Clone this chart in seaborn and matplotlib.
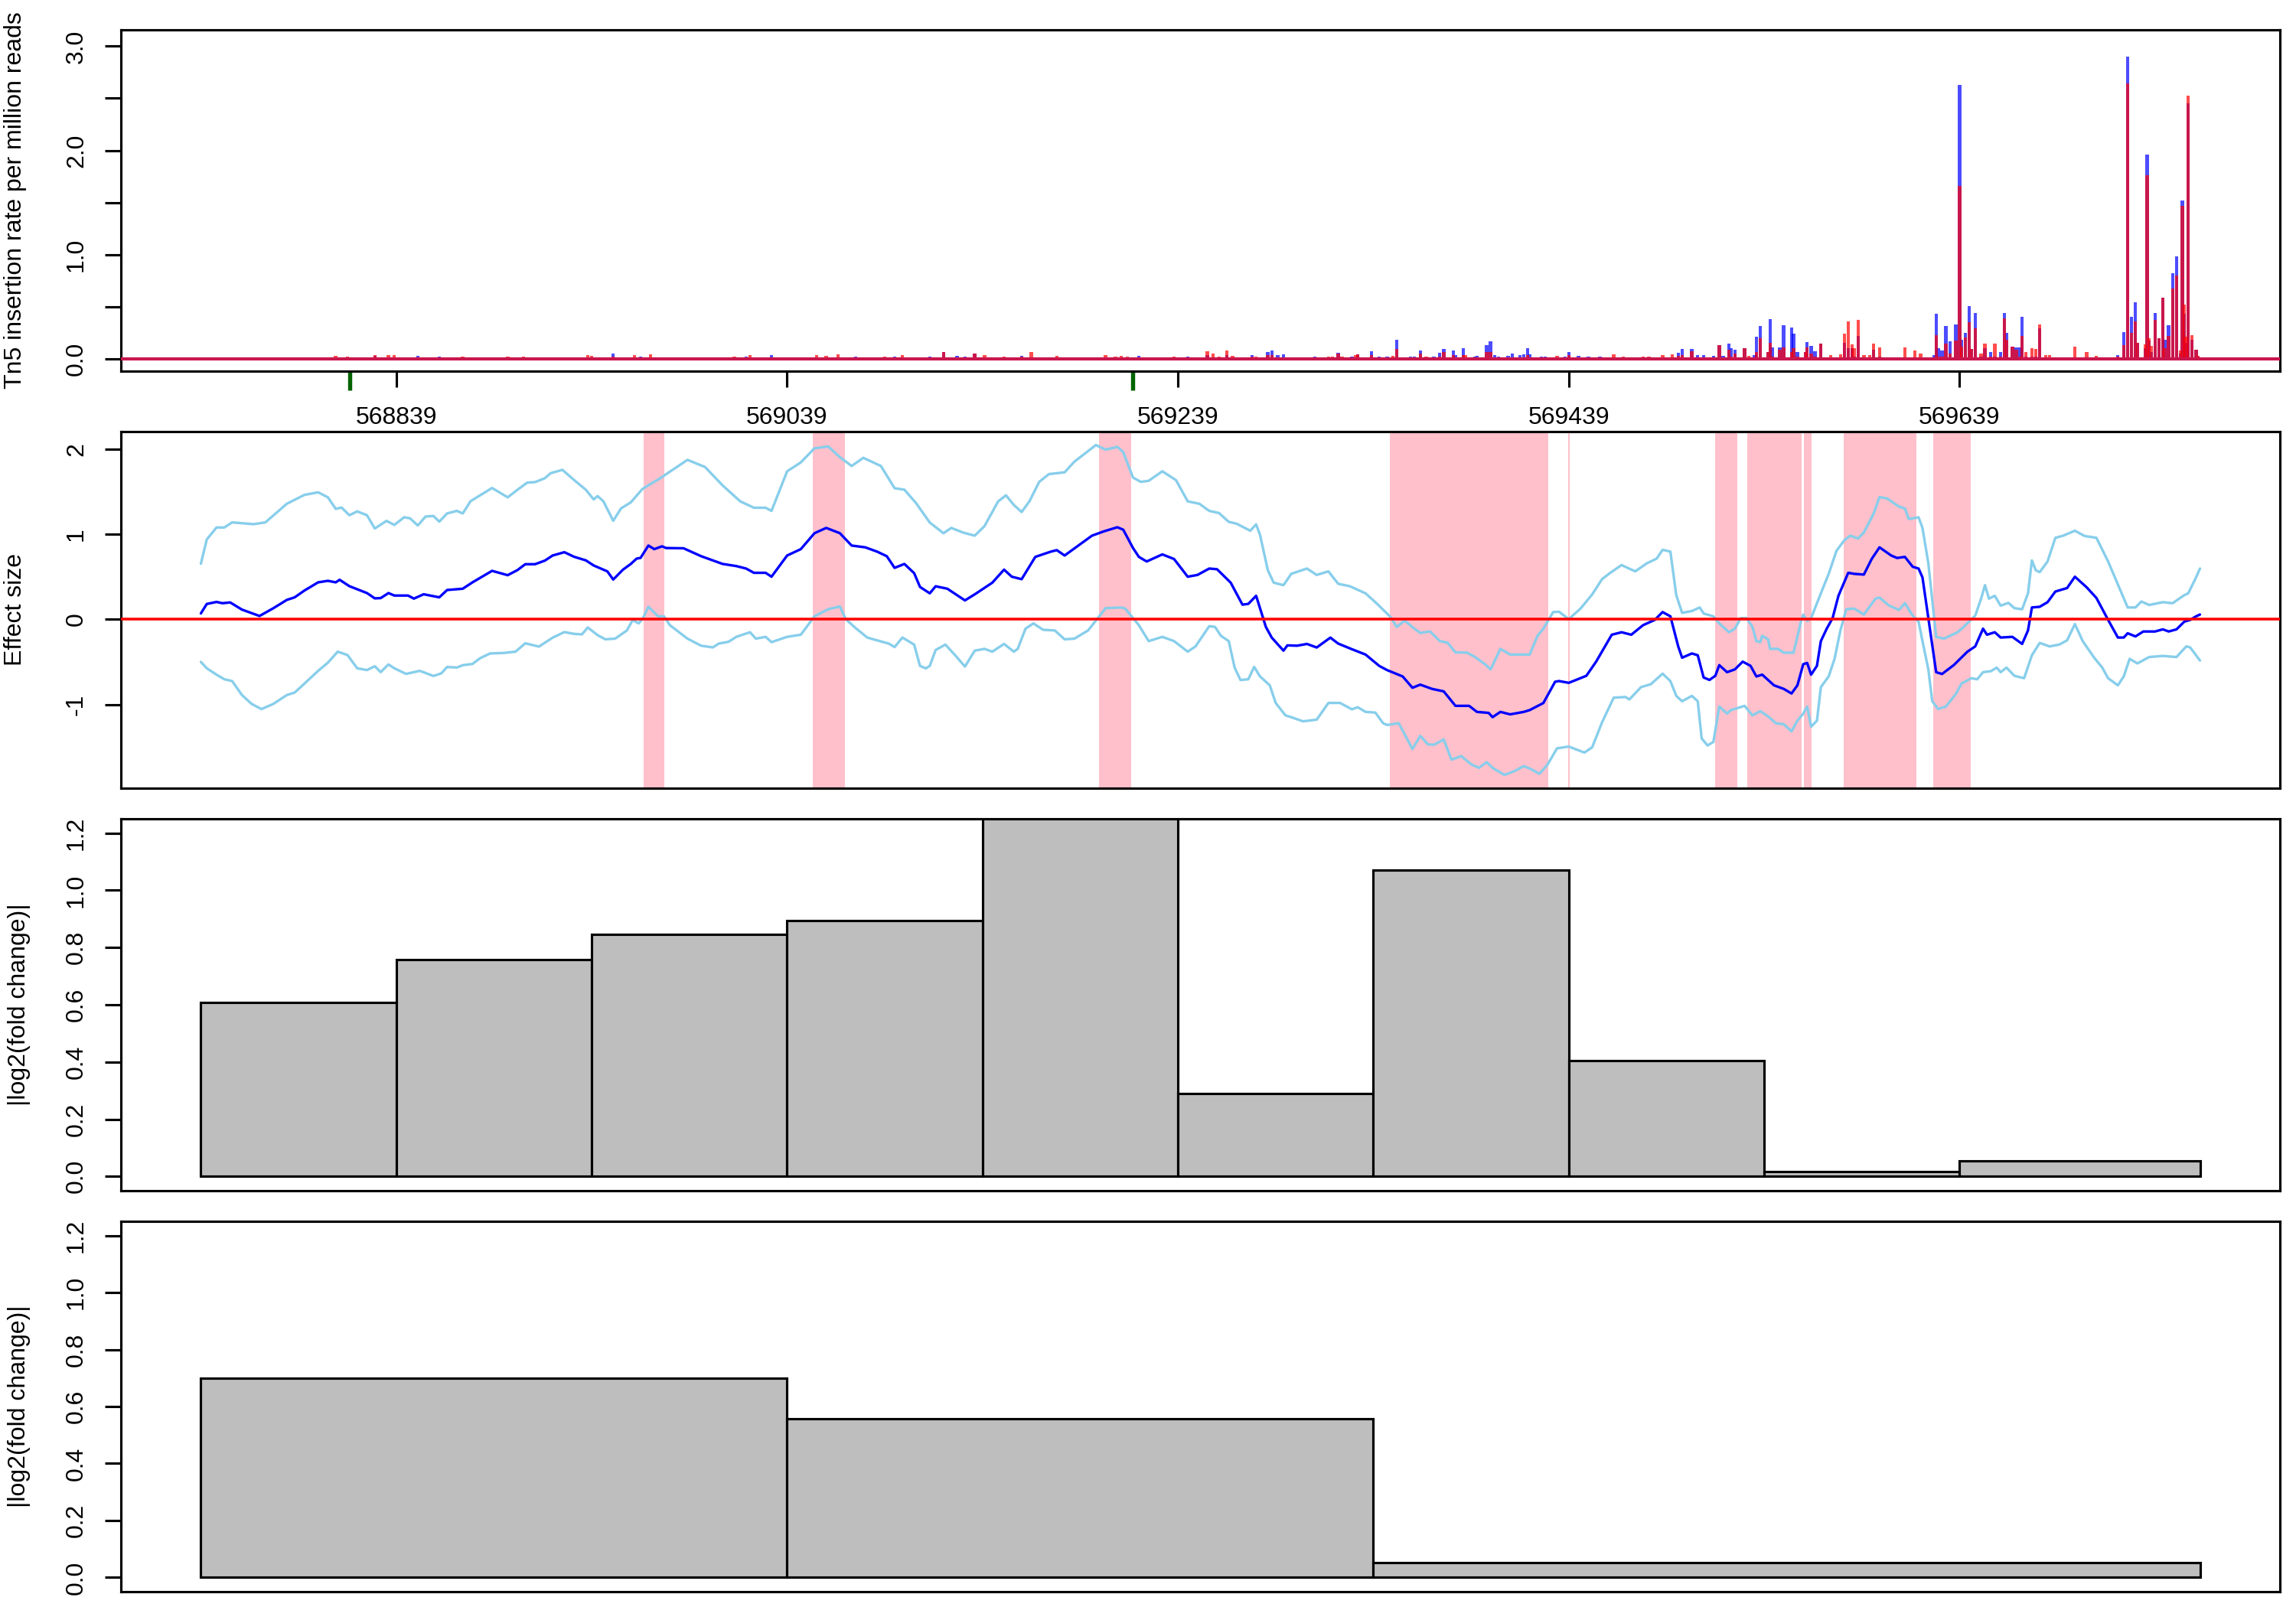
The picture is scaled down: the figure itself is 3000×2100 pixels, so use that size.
import numpy as np
import pandas as pd
import matplotlib
matplotlib.use("Agg")
import matplotlib.pyplot as plt
from matplotlib.ticker import FixedLocator, FixedFormatter
import seaborn as sns

# ---------------- data ----------------
REGION = (568739, 569762)
X_TICKS = [568839, 569039, 569239, 569439, 569639]
MOTIF_MARKS = [568815, 569216]

# Tn5 insertion rate per million reads: (position, sample A (blue), sample B (red))
SPIKES = [
    (568808, 0, 0.025), (568814, 0, 0.022), (568828, 0.025, 0.037), (568835, 0, 0.03),
    (568838, 0, 0.03), (568850, 0.027, 0), (568861, 0.022, 0), (568873, 0, 0.022),
    (568896, 0, 0.022), (568904, 0, 0.02), (568937, 0, 0.032), (568939, 0, 0.027),
    (568950, 0.051, 0.022), (568961, 0, 0.032), (568964, 0.017, 0), (568969, 0, 0.039),
    (569012, 0, 0.022), (569018, 0.022, 0), (569020, 0, 0.03), (569031, 0.032, 0.01),
    (569054, 0, 0.03), (569059, 0, 0.025), (569065, 0, 0.039), (569074, 0.02, 0),
    (569089, 0, 0.02), (569094, 0.022, 0), (569098, 0, 0.037), (569112, 0.017, 0),
    (569119, 0.061, 0.061), (569126, 0.025, 0), (569130, 0.022, 0), (569135, 0.049, 0.049),
    (569140, 0.01, 0.037), (569150, 0, 0.022), (569159, 0.025, 0.017), (569164, 0, 0.061),
    (569177, 0, 0.025), (569202, 0, 0.03), (569207, 0, 0.022), (569210, 0, 0.025),
    (569213, 0, 0.022), (569219, 0.027, 0), (569237, 0, 0.017), (569244, 0.017, 0),
    (569254, 0.032, 0.071), (569257, 0, 0.049), (569260, 0, 0.022), (569264, 0.03, 0.074),
    (569267, 0, 0.025), (569277, 0.032, 0.022), (569279, 0, 0.022), (569285, 0.061, 0.032),
    (569287, 0.074, 0.034), (569290, 0.032, 0.01), (569293, 0.042, 0.01), (569300, 0, 0.012),
    (569309, 0.022, 0), (569316, 0, 0.02), (569318, 0, 0.017), (569321, 0.054, 0.049),
    (569323, 0, 0.017), (569328, 0.02, 0), (569330, 0, 0.032), (569331, 0.042, 0.044),
    (569338, 0.069, 0.037), (569342, 0.022, 0), (569346, 0.02, 0), (569349, 0, 0.025),
    (569351, 0.177, 0.091), (569358, 0.017, 0), (569360, 0.017, 0), (569363, 0.081, 0.049),
    (569366, 0, 0.017), (569370, 0.017, 0), (569373, 0.056, 0.017), (569375, 0.093, 0.061),
    (569380, 0.074, 0.032), (569381, 0.037, 0), (569385, 0.103, 0.032), (569386, 0, 0.032),
    (569391, 0.022, 0), (569392, 0.029, 0), (569397, 0.13, 0.066), (569399, 0.164, 0.061),
    (569401, 0.032, 0), (569403, 0.017, 0), (569408, 0.025, 0), (569410, 0.047, 0),
    (569414, 0.032, 0), (569416, 0.042, 0), (569418, 0.096, 0.037), (569419, 0.042, 0),
    (569425, 0.022, 0), (569427, 0.017, 0), (569433, 0, 0.025), (569437, 0.017, 0),
    (569439, 0.061, 0.032), (569444, 0.025, 0), (569449, 0.02, 0), (569455, 0.017, 0),
    (569462, 0, 0.042), (569467, 0, 0.022), (569477, 0, 0.017), (569480, 0, 0.017),
    (569487, 0, 0.037), (569492, 0, 0.044), (569495, 0.054, 0.029), (569497, 0.091, 0.037),
    (569502, 0.093, 0.069), (569505, 0.032, 0.01), (569508, 0.032, 0.01), (569513, 0.025, 0),
    (569516, 0.127, 0.127), (569518, 0.025, 0), (569521, 0.147, 0.086), (569522, 0.098, 0.02),
    (569524, 0.086, 0.049), (569529, 0.103, 0.103), (569531, 0, 0.025), (569534, 0.037, 0),
    (569535, 0.213, 0.061), (569537, 0.316, 0.196), (569541, 0.066, 0.066), (569542, 0.378, 0.154),
    (569543, 0.11, 0.02), (569547, 0.105, 0.086), (569549, 0.319, 0.105), (569553, 0.30, 0.061),
    (569554, 0.24, 0.103), (569556, 0.066, 0.02), (569560, 0.066, 0.061), (569561, 0.16, 0.105),
    (569563, 0.12, 0.049), (569565, 0.071, 0.02), (569568, 0.14, 0.14), (569573, 0, 0.037),
    (569578, 0, 0.042), (569580, 0.152, 0.24), (569582, 0.103, 0.355), (569584, 0.098, 0.135),
    (569585, 0.02, 0.098), (569587, 0.218, 0.368), (569590, 0, 0.037), (569593, 0, 0.037),
    (569595, 0.086, 0.14), (569598, 0.02, 0.11), (569611, 0, 0.11), (569616, 0, 0.081),
    (569619, 0, 0.049), (569626, 0.032, 0), (569627, 0.429, 0.226), (569628, 0.098, 0.02),
    (569630, 0.074, 0.02), (569632, 0.314, 0.14), (569634, 0.167, 0.049), (569637, 0.326, 0.17),
    (569639, 2.627, 1.66), (569640, 0.177, 0.115), (569642, 0.245, 0.2), (569644, 0.507, 0.346),
    (569645, 0.091, 0.091), (569647, 0.441, 0.294), (569650, 0.02, 0.049), (569652, 0.103, 0.14),
    (569655, 0.066, 0.02), (569657, 0.02, 0.14), (569660, 0.061, 0.02), (569662, 0.441, 0.385),
    (569663, 0.25, 0.177), (569666, 0.115, 0.115), (569668, 0.11, 0.086), (569670, 0.105, 0.02),
    (569671, 0.404, 0.22), (569673, 0.02, 0.066), (569676, 0.02, 0.103), (569678, 0.02, 0.093),
    (569680, 0.294, 0.331), (569683, 0, 0.037), (569685, 0, 0.037), (569698, 0, 0.115),
    (569704, 0, 0.061), (569709, 0, 0.025), (569720, 0.037, 0.02), (569723, 0.257, 0.13),
    (569725, 2.90, 2.645), (569727, 0.404, 0.245), (569729, 0.54, 0.36), (569730, 0.15, 0.152),
    (569734, 0.1, 0.135), (569735, 1.957, 1.758), (569736, 0.17, 0.196), (569737, 0.06, 0.123),
    (569739, 0.436, 0.368), (569741, 0.196, 0.196), (569743, 0.583, 0.583), (569744, 0.184, 0.1),
    (569746, 0.32, 0.22), (569748, 0.82, 0.675), (569750, 0.985, 0.80), (569752, 0.05, 0.074),
    (569753, 1.516, 1.469), (569754, 0.43, 0.515), (569755, 0.15, 0.208), (569756, 2.449, 2.527),
    (569758, 0.184, 0.226), (569760, 0.086, 0.086), (569761, 0.02, 0.025),
]

# effect size: (position, value)
MEAN_CURVE = [
    (568739, 0.069), (568742, 0.18), (568747, 0.204), (568750, 0.189), (568754, 0.198),
    (568760, 0.114), (568769, 0.039), (568776, 0.129), (568783, 0.228), (568787, 0.258),
    (568792, 0.338), (568799, 0.434), (568804, 0.452), (568808, 0.434), (568810, 0.464),
    (568815, 0.389), (568820, 0.344), (568824, 0.308), (568828, 0.246), (568831, 0.249),
    (568835, 0.308), (568838, 0.279), (568845, 0.279), (568848, 0.243), (568853, 0.294),
    (568861, 0.258), (568865, 0.344), (568873, 0.359), (568878, 0.434), (568888, 0.569),
    (568896, 0.518), (568901, 0.578), (568905, 0.647), (568910, 0.647), (568915, 0.689),
    (568919, 0.749), (568925, 0.788), (568930, 0.734), (568936, 0.692), (568940, 0.632),
    (568947, 0.563), (568950, 0.467), (568955, 0.583), (568959, 0.65), (568962, 0.713),
    (568964, 0.721), (568968, 0.866), (568971, 0.824), (568975, 0.857), (568977, 0.837),
    (568986, 0.834), (568995, 0.741), (569006, 0.65), (569013, 0.625), (569018, 0.596),
    (569022, 0.546), (569028, 0.546), (569031, 0.500), (569039, 0.749), (569046, 0.824),
    (569053, 1.011), (569059, 1.073), (569066, 1.011), (569072, 0.866), (569079, 0.845),
    (569085, 0.795), (569090, 0.741), (569094, 0.604), (569099, 0.65), (569104, 0.542),
    (569107, 0.380), (569112, 0.305), (569115, 0.388), (569121, 0.359), (569130, 0.222),
    (569135, 0.293), (569144, 0.43), (569150, 0.583), (569154, 0.5), (569159, 0.471),
    (569166, 0.733), (569174, 0.795), (569177, 0.812), (569181, 0.749), (569186, 0.832),
    (569195, 0.982), (569201, 1.032), (569208, 1.081), (569211, 1.052), (569216, 0.837),
    (569219, 0.733), (569223, 0.679), (569231, 0.762), (569237, 0.708), (569244, 0.5),
    (569249, 0.521), (569255, 0.596), (569259, 0.588), (569266, 0.43), (569272, 0.172),
    (569275, 0.181), (569279, 0.276), (569284, -0.09), (569287, -0.215), (569293, -0.368),
    (569295, -0.306), (569300, -0.31), (569305, -0.289), (569310, -0.331), (569317, -0.215),
    (569321, -0.285), (569328, -0.351), (569335, -0.414), (569342, -0.547), (569346, -0.596),
    (569354, -0.671), (569359, -0.804), (569363, -0.767), (569369, -0.817), (569375, -0.846),
    (569381, -1.016), (569388, -1.016), (569392, -1.087), (569398, -1.099), (569400, -1.149),
    (569404, -1.087), (569409, -1.116), (569416, -1.087), (569419, -1.066), (569426, -0.983),
    (569432, -0.733), (569434, -0.725), (569439, -0.746), (569448, -0.663), (569453, -0.497),
    (569461, -0.181), (569466, -0.152), (569471, -0.181), (569477, -0.069), (569483, -0.007),
    (569487, 0.085), (569491, 0.035), (569495, -0.318), (569497, -0.451), (569502, -0.401),
    (569505, -0.422), (569508, -0.683), (569511, -0.712), (569514, -0.663), (569516, -0.538),
    (569520, -0.621), (569524, -0.588), (569528, -0.497), (569532, -0.546), (569535, -0.671),
    (569538, -0.650), (569541, -0.712), (569544, -0.775), (569549, -0.817), (569553, -0.871),
    (569556, -0.775), (569559, -0.526), (569561, -0.513), (569563, -0.650), (569566, -0.546),
    (569568, -0.256), (569571, -0.110), (569574, 0.014), (569577, 0.276), (569582, 0.546),
    (569585, 0.534), (569590, 0.525), (569594, 0.708), (569598, 0.845), (569604, 0.749),
    (569607, 0.720), (569611, 0.733), (569615, 0.617), (569618, 0.596), (569620, 0.492),
    (569623, 0.014), (569627, -0.621), (569630, -0.642), (569636, -0.538), (569643, -0.380),
    (569647, -0.318), (569651, -0.110), (569653, -0.181), (569657, -0.152), (569660, -0.214),
    (569666, -0.206), (569671, -0.289), (569674, -0.131), (569676, 0.139), (569680, 0.147),
    (569684, 0.201), (569688, 0.326), (569694, 0.367), (569698, 0.500), (569704, 0.376),
    (569709, 0.251), (569715, -0.007), (569720, -0.214), (569723, -0.214), (569725, -0.164),
    (569729, -0.201), (569733, -0.143), (569739, -0.143), (569743, -0.118), (569746, -0.143),
    (569750, -0.118), (569754, -0.027), (569757, -0.007), (569760, 0.035), (569762, 0.056),
]

UPPER_CURVE = [
    (568739, 0.653), (568742, 0.937), (568747, 1.078), (568751, 1.078), (568755, 1.138),
    (568766, 1.117), (568772, 1.138), (568783, 1.357), (568792, 1.461), (568799, 1.491),
    (568804, 1.432), (568808, 1.297), (568811, 1.312), (568815, 1.222), (568819, 1.267),
    (568824, 1.222), (568828, 1.066), (568834, 1.156), (568838, 1.108), (568843, 1.198),
    (568846, 1.186), (568850, 1.102), (568854, 1.207), (568858, 1.213), (568861, 1.147),
    (568865, 1.243), (568870, 1.273), (568873, 1.243), (568877, 1.387), (568888, 1.542),
    (568896, 1.432), (568901, 1.521), (568906, 1.605), (568910, 1.611), (568915, 1.656),
    (568918, 1.716), (568924, 1.755), (568930, 1.635), (568936, 1.521), (568940, 1.408),
    (568942, 1.447), (568945, 1.385), (568950, 1.157), (568954, 1.302), (568959, 1.373),
    (568965, 1.531), (568970, 1.601), (568974, 1.655), (568978, 1.718), (568988, 1.872),
    (568997, 1.788), (569006, 1.572), (569015, 1.385), (569022, 1.310), (569028, 1.310),
    (569031, 1.273), (569039, 1.738), (569046, 1.842), (569053, 2.008), (569060, 2.029),
    (569066, 1.904), (569072, 1.800), (569078, 1.896), (569087, 1.800), (569094, 1.539),
    (569099, 1.522), (569105, 1.364), (569112, 1.136), (569119, 1.011), (569123, 1.073),
    (569129, 1.019), (569135, 0.982), (569140, 1.094), (569147, 1.385), (569151, 1.456),
    (569155, 1.343), (569159, 1.260), (569163, 1.385), (569168, 1.614), (569173, 1.705),
    (569181, 1.726), (569186, 1.851), (569197, 2.046), (569202, 1.992), (569208, 2.025),
    (569211, 1.963), (569216, 1.664), (569220, 1.614), (569224, 1.626), (569231, 1.738),
    (569238, 1.634), (569244, 1.385), (569250, 1.356), (569255, 1.273), (569260, 1.248),
    (569265, 1.144), (569269, 1.123), (569276, 1.040), (569279, 1.115), (569281, 0.991),
    (569285, 0.575), (569288, 0.430), (569293, 0.401), (569297, 0.534), (569305, 0.596),
    (569310, 0.521), (569316, 0.563), (569321, 0.417), (569327, 0.388), (569335, 0.305),
    (569341, 0.180), (569348, 0.022), (569351, -0.090), (569355, -0.015), (569360, -0.110),
    (569363, -0.160), (569368, -0.143), (569373, -0.255), (569377, -0.276), (569381, -0.388),
    (569387, -0.392), (569391, -0.442), (569396, -0.525), (569399, -0.588), (569404, -0.347),
    (569409, -0.414), (569414, -0.414), (569419, -0.414), (569423, -0.194), (569426, -0.110),
    (569431, 0.085), (569434, 0.089), (569439, 0.002), (569445, 0.126), (569451, 0.293),
    (569456, 0.471), (569460, 0.542), (569466, 0.637), (569473, 0.563), (569479, 0.658),
    (569484, 0.713), (569487, 0.816), (569491, 0.795), (569494, 0.284), (569497, 0.076),
    (569502, 0.097), (569506, 0.139), (569508, 0.068), (569513, 0.035), (569516, -0.048),
    (569521, -0.152), (569524, -0.110), (569527, 0.014), (569530, 0.014), (569533, -0.090),
    (569535, -0.256), (569537, -0.268), (569538, -0.194), (569541, -0.235), (569542, -0.347),
    (569546, -0.347), (569549, -0.392), (569554, -0.392), (569555, -0.297), (569558, -0.007),
    (569559, 0.056), (569561, -0.019), (569563, 0.014), (569568, 0.305), (569572, 0.534),
    (569576, 0.804), (569580, 0.928), (569583, 0.982), (569587, 0.949), (569590, 1.019),
    (569595, 1.240), (569598, 1.435), (569602, 1.418), (569608, 1.322), (569611, 1.302),
    (569613, 1.177), (569618, 1.198), (569620, 1.073), (569623, 0.658), (569627, -0.206),
    (569631, -0.227), (569638, -0.152), (569641, -0.090), (569647, 0.043), (569650, 0.243),
    (569652, 0.401), (569654, 0.243), (569657, 0.276), (569660, 0.160), (569664, 0.193),
    (569667, 0.131), (569671, 0.118), (569674, 0.305), (569676, 0.691), (569678, 0.575),
    (569680, 0.554), (569684, 0.679), (569688, 0.957), (569692, 0.982), (569698, 1.040),
    (569703, 0.978), (569709, 0.957), (569715, 0.679), (569720, 0.409), (569725, 0.139),
    (569729, 0.139), (569732, 0.209), (569736, 0.168), (569743, 0.201), (569748, 0.189),
    (569754, 0.284), (569756, 0.305), (569760, 0.492), (569762, 0.596),
]

LOWER_CURVE = [
    (568739, -0.500), (568742, -0.575), (568747, -0.650), (568751, -0.704), (568755, -0.725),
    (568760, -0.889), (568765, -0.994), (568770, -1.054), (568776, -0.994), (568783, -0.889),
    (568787, -0.860), (568792, -0.755), (568799, -0.605), (568804, -0.509), (568809, -0.380),
    (568814, -0.419), (568819, -0.575), (568824, -0.596), (568828, -0.551), (568831, -0.620),
    (568835, -0.530), (568838, -0.575), (568844, -0.641), (568851, -0.605), (568858, -0.665),
    (568862, -0.635), (568865, -0.560), (568870, -0.566), (568873, -0.539), (568878, -0.524),
    (568882, -0.455), (568887, -0.401), (568894, -0.395), (568900, -0.380), (568905, -0.282),
    (568912, -0.320), (568919, -0.216), (568925, -0.150), (568930, -0.171), (568934, -0.177),
    (568937, -0.096), (568942, -0.186), (568946, -0.235), (568951, -0.227), (568957, -0.131),
    (568960, -0.007), (568963, -0.048), (568965, 0.002), (568968, 0.147), (568973, 0.035),
    (568976, 0.035), (568979, -0.069), (568988, -0.227), (568995, -0.310), (569001, -0.330),
    (569004, -0.285), (569009, -0.264), (569013, -0.206), (569020, -0.152), (569023, -0.227),
    (569028, -0.206), (569031, -0.268), (569039, -0.206), (569046, -0.181), (569053, 0.035),
    (569060, 0.118), (569066, 0.151), (569069, 0.002), (569074, -0.102), (569080, -0.214),
    (569085, -0.247), (569091, -0.285), (569094, -0.326), (569098, -0.214), (569104, -0.297),
    (569107, -0.547), (569110, -0.576), (569112, -0.547), (569115, -0.360), (569120, -0.297),
    (569125, -0.422), (569130, -0.555), (569135, -0.368), (569140, -0.347), (569144, -0.380),
    (569150, -0.289), (569155, -0.380), (569157, -0.347), (569161, -0.110), (569165, -0.048),
    (569170, -0.123), (569176, -0.131), (569181, -0.235), (569186, -0.227), (569193, -0.131),
    (569202, 0.131), (569210, 0.139), (569212, 0.126), (569219, -0.069), (569224, -0.256),
    (569231, -0.206), (569237, -0.256), (569244, -0.380), (569248, -0.318), (569255, -0.081),
    (569258, -0.090), (569261, -0.194), (569265, -0.256), (569268, -0.567), (569271, -0.713),
    (569275, -0.704), (569278, -0.559), (569281, -0.671), (569286, -0.775), (569289, -0.982),
    (569294, -1.128), (569297, -1.149), (569303, -1.198), (569310, -1.178), (569316, -0.982),
    (569322, -0.982), (569328, -1.057), (569331, -1.032), (569335, -1.087), (569340, -1.095),
    (569344, -1.220), (569346, -1.241), (569352, -1.220), (569359, -1.523), (569363, -1.369),
    (569367, -1.469), (569370, -1.473), (569375, -1.411), (569379, -1.648), (569384, -1.606),
    (569389, -1.702), (569393, -1.744), (569397, -1.677), (569400, -1.744), (569406, -1.827),
    (569411, -1.785), (569416, -1.723), (569419, -1.752), (569424, -1.814), (569428, -1.710),
    (569433, -1.515), (569439, -1.494), (569447, -1.565), (569451, -1.502), (569456, -1.211),
    (569462, -0.920), (569468, -0.912), (569470, -0.941), (569476, -0.796), (569481, -0.762),
    (569487, -0.638), (569491, -0.725), (569494, -0.899), (569497, -0.962), (569502, -0.899),
    (569505, -0.962), (569507, -1.398), (569510, -1.481), (569513, -1.440), (569516, -1.024),
    (569520, -1.107), (569522, -1.066), (569529, -1.016), (569533, -1.128), (569537, -1.078),
    (569541, -1.140), (569545, -1.220), (569549, -1.232), (569553, -1.315), (569556, -1.190),
    (569559, -1.107), (569561, -1.024), (569563, -1.261), (569566, -1.190), (569568, -0.796),
    (569572, -0.671), (569575, -0.464), (569578, -0.131), (569581, 0.118), (569585, 0.126),
    (569590, 0.056), (569596, 0.243), (569598, 0.255), (569603, 0.160), (569608, 0.110),
    (569611, 0.189), (569615, 0.043), (569618, -0.027), (569620, -0.256), (569623, -0.588),
    (569625, -0.962), (569628, -1.053), (569632, -1.024), (569637, -0.879), (569640, -0.754),
    (569645, -0.692), (569648, -0.704), (569651, -0.621), (569655, -0.609), (569658, -0.567),
    (569660, -0.621), (569663, -0.567), (569667, -0.663), (569672, -0.692), (569676, -0.422),
    (569680, -0.277), (569685, -0.318), (569690, -0.297), (569694, -0.247), (569698, -0.056),
    (569702, -0.256), (569708, -0.455), (569712, -0.567), (569715, -0.692), (569720, -0.775),
    (569723, -0.671), (569726, -0.464), (569730, -0.518), (569736, -0.443), (569743, -0.430),
    (569750, -0.443), (569755, -0.318), (569757, -0.330), (569762, -0.484),
]

# significant windows (pink)
SIG_START = [568965.5, 569052.2, 569198.6, 569347.6, 569438.6, 569513.7, 569530.5, 569559.5, 569579.5, 569625.6]
SIG_END   = [568976.2, 569068.4, 569215.1, 569428.4, 569439.4, 569525.2, 569558.2, 569563.4, 569616.7, 569644.5]

# |log2(fold change)| in 100 bp and 300 bp windows
FC_EDGES_100 = [568739, 568839, 568939, 569039, 569139, 569239, 569339, 569439, 569539, 569639, 569762]
FC_100 = [0.607, 0.758, 0.846, 0.893, 1.32, 0.289, 1.07, 0.405, 0.016, 0.055]
FC_EDGES_300 = [568739, 569039, 569339, 569762]
FC_300 = [0.699, 0.556, 0.051]

# ---------------- style ----------------
FS = 7.7
sns.set_style("ticks", {
    "axes.edgecolor": "black", "axes.linewidth": 0.75,
    "xtick.color": "black", "ytick.color": "black",
    "text.color": "black", "axes.labelcolor": "black",
})
plt.rcParams["font.family"] = ["Liberation Sans", "DejaVu Sans"]
plt.rcParams["font.size"] = FS

fig = plt.figure(figsize=(10, 7), dpi=300)
L, R_ = 158 / 3000, 2979 / 3000


def add_panel(top_px, bottom_px):
    return fig.add_axes([L, 1 - bottom_px / 2100, R_ - L, (bottom_px - top_px) / 2100])


ax1 = add_panel(39, 485)
ax2 = add_panel(564, 1030)
ax3 = add_panel(1070, 1556)
ax4 = add_panel(1596, 2080)

span = REGION[1] - REGION[0]
XLIM = (REGION[0] - 0.04 * span, REGION[1] + 0.04 * span)

# ---------------- panel 1: insertion spikes ----------------
spk = pd.DataFrame(SPIKES, columns=["pos", "blue", "red"])
bins = [REGION[0] - 0.5 + i for i in range(span + 2)]
sns.histplot(data=spk, x="pos", weights="blue", bins=bins, shrink=1.7,
             color="#0000FF", alpha=0.7, linewidth=0, edgecolor="none", ax=ax1)
sns.histplot(data=spk, x="pos", weights="red", bins=bins, shrink=1.7,
             color="#FF0000", alpha=0.7, linewidth=0, edgecolor="none", ax=ax1)
ax1.axhline(0, color="#C9174D", lw=1.0, zorder=3)
ax1.set_ylim(-0.121, 3.158)
ax1.yaxis.set_major_locator(FixedLocator([0, 0.5, 1, 1.5, 2, 2.5, 3]))
ax1.yaxis.set_major_formatter(FixedFormatter(["0.0", "", "1.0", "", "2.0", "", "3.0"]))
ax1.set_xlim(XLIM)
ax1.set_xticks(X_TICKS)
ax1.set_xticklabels([str(t) for t in X_TICKS])
ax1.set_xticks(MOTIF_MARKS, minor=True)
ax1.tick_params(axis="x", which="minor", length=6.0, width=1.3, color="#006400")
ax1.tick_params(axis="x", which="major", length=5.0, width=0.75, pad=6, labelsize=FS)
ax1.set_xlabel("")
ax1.set_ylabel("Tn5 insertion rate per million reads", fontsize=FS, va="center")
ax1.yaxis.set_label_coords(-0.0489, 0.5)

# ---------------- panel 2: effect size ----------------
for s, e in zip(SIG_START, SIG_END):
    ax2.axvspan(s, e, color="#FFC0CB", lw=0, zorder=0.5)
up = pd.DataFrame(UPPER_CURVE, columns=["pos", "val"])
lo = pd.DataFrame(LOWER_CURVE, columns=["pos", "val"])
mn = pd.DataFrame(MEAN_CURVE, columns=["pos", "val"])
sns.lineplot(data=up, x="pos", y="val", color="#87CEEB", lw=0.8, estimator=None, errorbar=None, ax=ax2)
sns.lineplot(data=lo, x="pos", y="val", color="#87CEEB", lw=0.8, estimator=None, errorbar=None, ax=ax2)
sns.lineplot(data=mn, x="pos", y="val", color="#0000FF", lw=0.8, estimator=None, errorbar=None, ax=ax2)
ax2.axhline(0, color="#FF0000", lw=0.85, zorder=3)
ax2.set_xlim(XLIM)
ax2.set_ylim(-1.983, 2.204)
ax2.yaxis.set_major_locator(FixedLocator([-1, 0, 1, 2]))
ax2.yaxis.set_major_formatter(FixedFormatter(["-1", "0", "1", "2"]))
ax2.set_xticks([])
ax2.set_xlabel("")
ax2.set_ylabel("Effect size", fontsize=FS, va="center")
ax2.yaxis.set_label_coords(-0.0489, 0.5)

# ---------------- panels 3 & 4: fold change bars ----------------
for ax, edges, vals in ((ax3, FC_EDGES_100, FC_100), (ax4, FC_EDGES_300, FC_300)):
    mids = [(a + b) / 2 for a, b in zip(edges[:-1], edges[1:])]
    sns.histplot(x=mids, weights=vals, bins=list(edges), color="#BEBEBE", alpha=1,
                 edgecolor="black", linewidth=0.75, ax=ax)
    ax.set_xlim(XLIM)
    ax.set_ylim(-0.05, 1.25)
    ax.yaxis.set_major_locator(FixedLocator([0, 0.2, 0.4, 0.6, 0.8, 1.0, 1.2]))
    ax.yaxis.set_major_formatter(FixedFormatter(["0.0", "0.2", "0.4", "0.6", "0.8", "1.0", "1.2"]))
    ax.set_xticks([])
    ax.set_xlabel("")
    ax.set_ylabel("|log2(fold change)|", fontsize=FS, va="center")
    ax.yaxis.set_label_coords(-0.0473, 0.5)

for ax in (ax1, ax2, ax3, ax4):
    ax.tick_params(axis="y", which="major", length=5.0, width=0.75, pad=8.9, labelsize=FS)
    plt.setp(ax.get_yticklabels(), rotation=90, va="center", ha="center")
    for sp in ax.spines.values():
        sp.set_visible(True)
        sp.set_linewidth(0.75)
        sp.set_color("black")
    ax.grid(False)

fig.savefig("out.png", dpi=300, facecolor="white")
